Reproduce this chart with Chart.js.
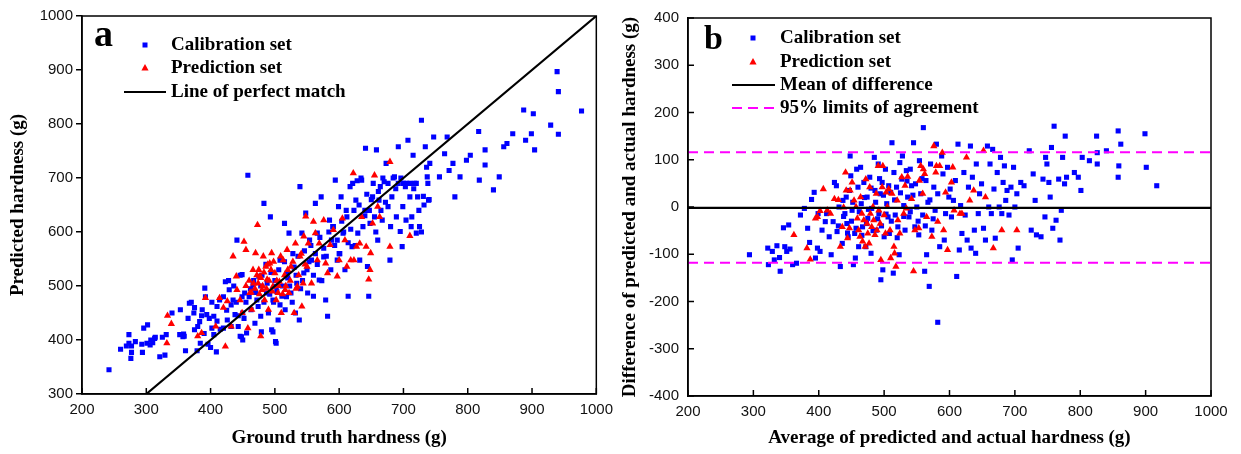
<!DOCTYPE html>
<html>
<head>
<meta charset="utf-8">
<script src="https://cdn.jsdelivr.net/npm/chart.js@4.4.1/dist/chart.umd.min.js"></script>
<style>
body{margin:0;background:#fff;width:1241px;height:454px;overflow:hidden;position:relative}
#wa{position:absolute;left:0;top:0;width:620px;height:454px}
#wb{position:absolute;left:620px;top:0;width:621px;height:454px}
</style>
</head>
<body>
<div id="wa"><canvas id="chartA" width="620" height="454"></canvas></div>
<div id="wb"><canvas id="chartB" width="621" height="454"></canvas></div>
<script>
// panel a: ground truth vs predicted hardness (g)
const calibA = [
 [242,345],[260,383],[273,394],[273,410],[269,389],[277,389],[277,377],[276,366],[283,397],[294,377],
 [293,392],[301,394],[306,391],[310,395],[313,403],[321,369],[325,405],[329,372],[331,410],[361,380],
 [357,406],[358,411],[379,380],[384,394],[390,412],[396,392],[400,386],[409,378],[448,406],[450,400],
 [479,415],[502,394],[497,415],[296,422],[302,428],[307,400],[314,405],[340,450],[353,456],[359,407],
 [367,468],[374,450],[375,419],[383,434],[387,456],[391,496],[394,447],[402,422],[405,444],[410,462],
 [414,474],[420,422],[423,508],[426,437],[429,493],[432,425],[435,474],[438,447],[441,585],[443,425],
 [446,407],[449,521],[450,450],[453,487],[456,413],[458,705],[463,456],[466,502],[469,431],[472,474],
 [475,518],[478,444],[483,653],[487,487],[490,450],[493,628],[495,419],[497,474],[501,397],[502,499],
 [505,437],[508,548],[511,481],[515,616],[516,456],[519,524],[522,598],[525,487],[528,560],[532,450],
 [534,505],[538,437],[539,684],[542,598],[545,524],[548,635],[551,487],[554,585],[557,548],[560,481],
 [563,653],[566,598],[569,511],[572,665],[576,554],[579,474],[582,444],[585,622],[588,585],[591,610],
 [594,696],[597,548],[599,647],[601,560],[603,665],[606,598],[609,530],[612,628],[614,481],[617,684],
 [620,573],[623,640],[626,659],[629,598],[632,548],[635,696],[640,640],[641,755],[644,536],[646,481],
 [648,616],[652,665],[655,628],[658,752],[660,585],[662,659],[664,684],[667,622],[670,693],[673,727],
 [676,647],[679,548],[682,665],[686,702],[689,628],[692,758],[695,601],[698,573],[699,647],[703,684],
 [704,622],[707,770],[710,665],[713,628],[715,742],[717,690],[720,598],[722,665],[725,610],[728,807],
 [731,666],[734,758],[737,702],[739,659],[741,727],[747,776],[756,702],[764,745],[768,776],[771,714],
 [777,727],[780,665],[788,702],[798,733],[804,742],[817,786],[818,696],[827,752],[827,724],[840,678],
 [849,702],[856,758],[861,764],[870,782],[887,826],[890,770],[902,819],[899,782],[904,752],[929,798],
 [939,897],[941,860],[941,781],[977,824],
 [455,470],[460,480],[462,495],[467,510],[470,488],[474,462],[478,500],[480,520],[483,470],[486,540],
 [488,505],[492,485],[494,525],[498,470],[500,510],[503,490],[506,530],[508,465],[512,500],[515,545],
 [518,480],[520,515],[523,500],[527,470],[530,535],[533,520],[536,555],[540,495],[543,510],[546,565],
 [550,530],[553,545],[556,575],[560,520],[563,560],[566,540],[570,590],[573,510],[576,570],[580,555],
 [584,600],[587,530],[590,610],[593,575],[597,585],[600,560],[604,620],[607,600],[611,640],[614,580],
 [618,605],[621,690],[625,575],[628,695],[631,650],[634,700],[637,610],[640,630],[643,670],[647,640],
 [650,660],[653,690],[657,600],[661,675],[665,640],[668,700],[672,655],[676,690],[680,610],[684,700],
 [688,680],[692,690],[696,700],[700,690],[705,690],[710,690],[712,610],[716,680],[720,690],[724,640],
 [728,600],[732,650],[736,720],[738,690],[740,660],[420,480],[425,455],[428,510],[432,465],[436,500],
 [440,470],[443,445],[446,520],[449,480],[452,440],[405,410],[410,435],[415,420],[398,440],[402,470],
 [392,480],[386,445],[380,425],[375,460],[370,470],[365,440],[352,410]
];
const predA = [
 [333,445],[332,394],[339,430],[380,407],[386,413],[392,478],[408,425],[414,478],[420,460],[423,388],
 [426,472],[432,425],[435,555],[440,518],[441,493],[446,474],[449,450],[452,582],[455,567],[458,422],
 [461,487],[464,456],[467,505],[470,561],[473,613],[475,530],[477,518],[478,407],[480,493],[482,555],
 [484,474],[486,536],[488,512],[490,456],[492,542],[495,561],[497,499],[500,524],[502,474],[505,487],
 [507,508],[510,450],[513,548],[516,493],[519,567],[522,487],[525,536],[530,450],[532,579],[535,499],
 [539,555],[542,462],[545,592],[548,629],[550,536],[552,579],[557,505],[560,619],[563,598],[566,548],
 [569,579],[576,622],[579,542],[582,524],[586,576],[591,604],[597,518],[600,548],[605,625],[609,585],
 [612,536],[618,548],[622,709],[623,548],[627,573],[632,579],[635,628],[642,573],[646,512],[648,530],
 [649,561],[652,616],[655,705],[660,647],[663,628],[679,573],[679,730],[710,593],
 [455,500],[460,510],[463,488],[466,530],[469,495],[472,520],[474,505],[476,485],[478,515],[481,500],
 [483,525],[487,495],[489,540],[491,510],[494,530],[496,490],[498,545],[503,510],[506,500],[509,555],
 [512,485],[515,520],[517,500],[520,530],[524,510],[528,545],[533,495],[537,520],[541,560],[544,505],[547,540]
];
const perfectX = [300, 1000];
const perfectY = [300, 1000];

// panel b: Bland-Altman, average (g) vs difference (g)
const calibB = [
 [294,-101],[322,-87],[323,-122],[329,-94],[332,-112],[336,-82],[340,-107],[341,-136],[346,-44],[348,-84],
 [351,-94],[354,-38],[356,-89],[360,-122],[366,-119],[372,-17],[378,-3],[383,-45],[386,-75],[389,16],
 [393,31],[395,-108],[398,-87],[399,-14],[402,-94],[405,-49],[410,-31],[412,-14],[416,-63],[419,-101],
 [422,-31],[424,52],[427,45],[428,-52],[431,0],[433,-126],[436,-77],[437,14],[440,-14],[442,21],
 [443,-35],[445,-63],[447,35],[448,108],[449,66],[451,-7],[453,-122],[455,-56],[456,-108],[458,80],
 [460,42],[461,-84],[464,84],[465,7],[467,-42],[469,52],[472,-84],[474,21],[475,-24],[478,63],
 [480,-98],[481,-3],[485,105],[486,35],[488,-49],[491,91],[492,-14],[494,28],[495,-154],[497,52],
 [498,-133],[500,-63],[502,80],[504,7],[506,-21],[508,-56],[510,31],[512,136],[514,-140],[515,73],
 [517,-17],[519,42],[521,-42],[523,-101],[524,94],[527,59],[528,108],[530,3],[532,-49],[534,77],
 [536,21],[538,-21],[540,80],[542,45],[545,136],[547,-42],[548,49],[550,0],[553,-59],[554,98],
 [556,28],[559,-17],[560,168],[562,-136],[564,56],[565,-101],[567,10],[569,-168],[571,91],[573,-49],
 [576,42],[578,-7],[580,133],[582,-244],[582,28],[585,-84],[588,108],[590,70],[592,-70],[594,-14],
 [597,84],[599,21],[601,38],[603,-21],[606,14],[609,56],[611,-147],[613,133],[615,-91],[617,3],
 [619,-56],[622,73],[624,-17],[627,-70],[629,42],[632,129],[633,-87],[635,63],[638,-49],[640,-98],
 [641,91],[644,-14],[646,28],[649,49],[652,-45],[655,-70],[658,129],[660,0],[662,91],[664,-14],
 [666,122],[668,38],[670,-66],[673,73],[676,0],[678,105],[680,-14],[682,52],[684,87],[686,14],
 [688,35],[691,-17],[694,42],[696,-112],[698,84],[700,0],[703,28],[705,-87],[709,52],[714,45],
 [722,119],[725,-49],[728,70],[731,14],[733,-59],[740,-63],[743,59],[746,-21],[747,105],[749,91],
 [752,52],[754,21],[756,126],[758,-45],[760,171],[763,-28],[767,59],[769,-70],[771,-7],[773,105],
 [776,49],[777,150],[779,63],[791,73],[797,63],[801,35],[803,105],[814,98],[825,150],[826,115],
 [826,91],[840,119],[858,161],[858,63],[859,87],[862,133],[899,155],[901,84],[917,45],
 [430,-40],[438,-20],[444,-55],[450,-30],[452,10],[457,-45],[462,-10],[466,-60],[470,20],[473,-35],
 [476,-5],[480,40],[483,-50],[487,10],[490,-25],[493,60],[496,-40],[499,25],[503,-15],[507,45],
 [511,-30],[516,15],[520,-65],[525,30],[530,-20],[535,55],[540,-10],[544,25],[552,-30],[558,60],
 [563,-40],[570,15],[575,-25]
];
const predB = [
 [362,-59],[382,-87],[387,-111],[395,-24],[398,-21],[402,-8],[407,38],[413,-7],[418,-14],[424,17],
 [430,15],[433,-84],[436,-42],[438,-1],[441,73],[442,35],[444,-66],[447,-45],[448,35],[451,52],
 [454,14],[457,0],[459,-24],[461,-49],[463,-63],[464,21],[466,-14],[467,-73],[469,-28],[471,-84],
 [472,59],[474,-35],[475,-56],[477,-77],[478,42],[479,-14],[481,-42],[483,0],[484,-28],[486,-59],
 [488,28],[489,-49],[491,87],[492,-7],[494,-35],[495,-112],[497,42],[498,87],[500,-17],[502,-56],
 [503,31],[505,0],[507,38],[509,-49],[510,-108],[512,28],[515,-84],[516,-98],[518,-126],[520,14],
 [521,-28],[524,-56],[527,63],[530,-14],[532,45],[534,-3],[536,64],[542,17],[545,-136],[547,-49],
 [553,-45],[554,56],[556,87],[559,28],[560,80],[562,70],[565,-21],[573,-63],[576,129],[579,73],
 [580,87],[582,-31],[585,87],[589,115],[591,-49],[594,31],[597,-91],[603,52],[605,84],[607,-7],
 [616,-14],[619,-14],[626,105],[631,14],[637,35],[652,119],[655,21],[667,-87],[680,-49],[703,-49]
];
const limitX = [200, 1000];
const meanDiff = -2;
const upperLoA = 116;
const lowerLoA = -118;

const xTicks = [200, 300, 400, 500, 600, 700, 800, 900, 1000];
const yTicksA = [300, 400, 500, 600, 700, 800, 900, 1000];
const yTicksB = [-400, -300, -200, -100, 0, 100, 200, 300, 400];

function pts(arr) { return arr.map(p => ({x: p[0], y: p[1]})); }
function pairs(xs, ys) { return xs.map((x, i) => ({x: x, y: ys[i]})); }

const tickFont = {family: '"Liberation Sans", Arial, sans-serif', size: 15};
const titleFont = {family: '"Liberation Serif", "Times New Roman", serif', size: 19, weight: 'bold', lineHeight: 1};

// frame, inward ticks, panel letter and legend
const framePlugin = {
  id: 'frame',
  afterDraw(chart, args, opts) {
    const ctx = chart.ctx;
    const a = chart.chartArea;
    ctx.save();
    ctx.strokeStyle = '#000';
    ctx.lineWidth = 1.5;
    ctx.strokeRect(a.left, a.top, a.right - a.left, a.bottom - a.top);
    (opts.inward || []).forEach(id => {
      const s = chart.scales[id];
      s.ticks.forEach(t => {
        const p = s.getPixelForValue(t.value);
        ctx.beginPath();
        if (s.isHorizontal()) { ctx.moveTo(p, a.bottom); ctx.lineTo(p, a.bottom - 6); }
        else { ctx.moveTo(a.left, p); ctx.lineTo(a.left + 6, p); }
        ctx.stroke();
      });
    });
    ctx.fillStyle = '#000';
    ctx.textAlign = 'left';
    ctx.textBaseline = 'alphabetic';
    ctx.font = 'bold ' + opts.letterSize + 'px "Liberation Serif"';
    ctx.fillText(opts.letter, opts.letterX, opts.letterY);

    ctx.font = 'bold 19px "Liberation Serif"';
    ctx.textBaseline = 'middle';
    opts.items.forEach(it => {
      const y = it.y;
      if (it.kind === 'rect') {
        ctx.fillStyle = it.color;
        ctx.fillRect(opts.markX - 2.5, y - 2.5, 5, 5);
      } else if (it.kind === 'tri') {
        ctx.fillStyle = it.color;
        ctx.beginPath();
        ctx.moveTo(opts.markX, y - 4);
        ctx.lineTo(opts.markX + 3.6, y + 2.5);
        ctx.lineTo(opts.markX - 3.6, y + 2.5);
        ctx.closePath();
        ctx.fill();
      } else {
        ctx.strokeStyle = it.color;
        ctx.lineWidth = 2.2;
        ctx.setLineDash(it.kind === 'dash' ? [10, 6] : []);
        ctx.beginPath();
        ctx.moveTo(opts.lineX0, y);
        ctx.lineTo(opts.lineX1, y);
        ctx.stroke();
        ctx.setLineDash([]);
      }
      ctx.fillStyle = '#000';
      ctx.fillText(it.label, opts.textX, y);
    });
    ctx.restore();
  }
};

function xScale(title) {
  return {
    type: 'linear', min: 200, max: 1000,
    afterBuildTicks: s => { s.ticks = xTicks.map(v => ({value: v})); },
    afterFit: s => { s.height = 60; },
    grid: {display: false, drawTicks: false},
    border: {display: true, color: '#000', width: 1.5},
    ticks: {font: tickFont, color: '#111', padding: 7, maxRotation: 0, callback: v => String(v)},
    title: {display: true, text: title, font: titleFont, color: '#000', padding: {top: 0, bottom: 6}}
  };
}

const chartA = new Chart(document.getElementById('chartA'), {
  type: 'scatter',
  data: {
    datasets: [
      {label: 'Line of perfect match', type: 'line', data: pairs(perfectX, perfectY), borderColor: '#000',
       borderWidth: 2.2, pointRadius: 0, fill: false, order: 0},
      {label: 'Prediction set', data: pts(predA), pointStyle: 'triangle', pointRadius: 4.2,
       backgroundColor: '#ff0000', borderWidth: 0, order: 1},
      {label: 'Calibration set', data: pts(calibA), pointStyle: 'rect', pointRadius: 3.6,
       backgroundColor: '#0000ff', borderWidth: 0, order: 2}
    ]
  },
  options: {
    responsive: false, animation: false, events: [],
    layout: {padding: {top: 16, right: 20, left: 0, bottom: 0}},
    scales: {
      x: xScale('Ground truth hardness (g)'),
      y: {
        type: 'linear', min: 300, max: 1000,
        afterBuildTicks: s => { s.ticks = yTicksA.map(v => ({value: v})); },
        afterFit: s => { s.width = 82; },
        grid: {display: true, drawOnChartArea: false, drawTicks: true, tickLength: 6, color: '#000', lineWidth: 1.5},
        border: {display: true, color: '#000', width: 1.5},
        ticks: {font: tickFont, color: '#111', padding: 3, callback: v => String(v)},
        title: {display: true, text: 'Predicted hardness (g)', font: titleFont, color: '#000', padding: {top: 9, bottom: 0}}
      }
    },
    plugins: {
      legend: {display: false}, tooltip: {enabled: false},
      frame: {
        inward: ['x'], letter: 'a', letterSize: 38, letterX: 94, letterY: 46,
        markX: 145, textX: 171, lineX0: 124, lineX1: 166,
        items: [
          {label: 'Calibration set', kind: 'rect', color: '#0000ff', y: 45},
          {label: 'Prediction set', kind: 'tri', color: '#ff0000', y: 68},
          {label: 'Line of perfect match', kind: 'line', color: '#000', y: 92}
        ]
      }
    }
  },
  plugins: [framePlugin]
});

const chartB = new Chart(document.getElementById('chartB'), {
  type: 'scatter',
  data: {
    datasets: [
      {label: 'Mean of difference', type: 'line', data: pairs(limitX, [meanDiff, meanDiff]), borderColor: '#000',
       borderWidth: 2.2, pointRadius: 0, fill: false, order: 0},
      {label: '95% limits of agreement', type: 'line', data: pairs(limitX, [upperLoA, upperLoA]), borderColor: '#ff00ff',
       borderWidth: 2, borderDash: [10, 6], pointRadius: 0, fill: false, order: 0},
      {label: '95% limits of agreement', type: 'line', data: pairs(limitX, [lowerLoA, lowerLoA]), borderColor: '#ff00ff',
       borderWidth: 2, borderDash: [10, 6], pointRadius: 0, fill: false, order: 0},
      {label: 'Prediction set', data: pts(predB), pointStyle: 'triangle', pointRadius: 4.2,
       backgroundColor: '#ff0000', borderWidth: 0, order: 1},
      {label: 'Calibration set', data: pts(calibB), pointStyle: 'rect', pointRadius: 3.6,
       backgroundColor: '#0000ff', borderWidth: 0, order: 2}
    ]
  },
  options: {
    responsive: false, animation: false, events: [],
    layout: {padding: {top: 16, right: 30, left: 0, bottom: 0}},
    scales: {
      x: Object.assign(xScale('Average of predicted and actual hardness (g)'), {afterFit: s => { s.height = 58; }}),
      y: {
        type: 'linear', min: -400, max: 400,
        afterBuildTicks: s => { s.ticks = yTicksB.map(v => ({value: v})); },
        afterFit: s => { s.width = 68; },
        grid: {display: false, drawTicks: false},
        border: {display: true, color: '#000', width: 1.5},
        ticks: {font: tickFont, color: '#111', padding: 9, callback: v => String(v)},
        title: {display: true, text: 'Difference of predicted and actual hardness (g)', font: titleFont, color: '#000', padding: {top: 1, bottom: 0}}
      }
    },
    plugins: {
      legend: {display: false}, tooltip: {enabled: false},
      frame: {
        inward: ['x', 'y'], letter: 'b', letterSize: 34, letterX: 84, letterY: 49,
        markX: 133, textX: 160, lineX0: 112, lineX1: 155,
        items: [
          {label: 'Calibration set', kind: 'rect', color: '#0000ff', y: 38},
          {label: 'Prediction set', kind: 'tri', color: '#ff0000', y: 62},
          {label: 'Mean of difference', kind: 'line', color: '#000', y: 85},
          {label: '95% limits of agreement', kind: 'dash', color: '#ff00ff', y: 108}
        ]
      }
    }
  },
  plugins: [framePlugin]
});
</script>
</body>
</html>
